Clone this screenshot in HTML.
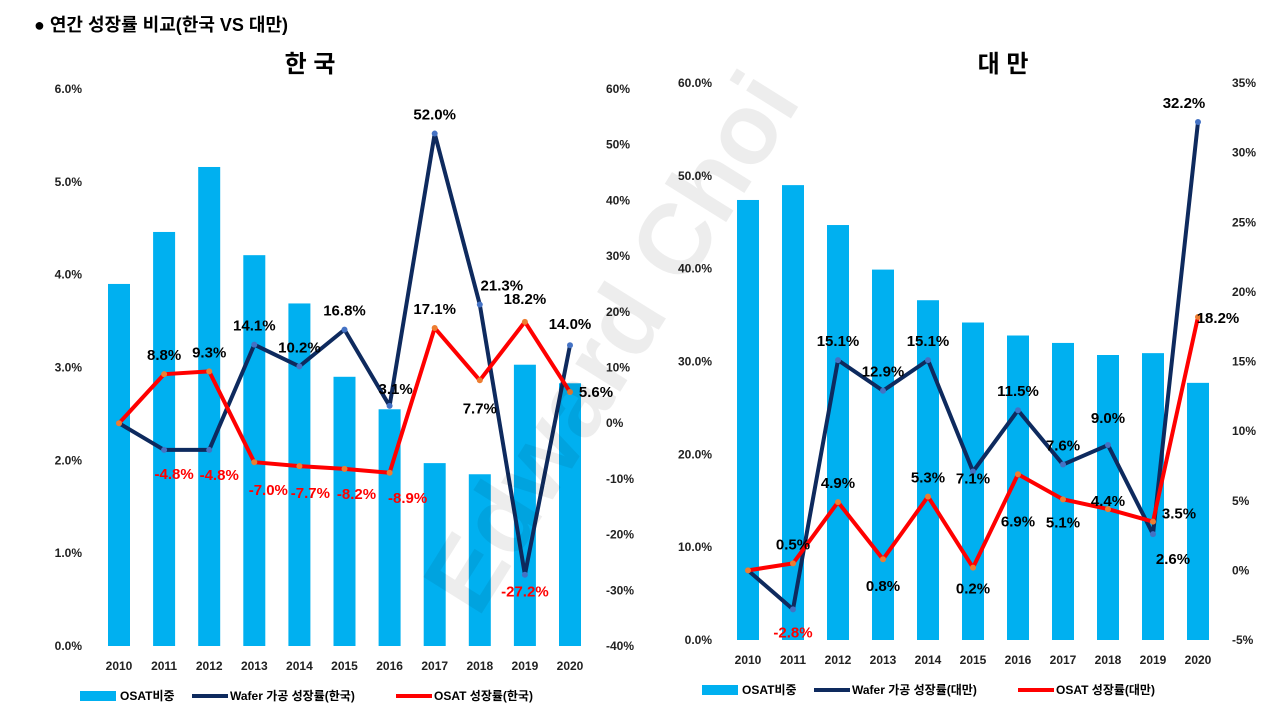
<!DOCTYPE html>
<html><head><meta charset="utf-8">
<style>
html,body{margin:0;padding:0;background:#fff;}
svg text{font-family:"Liberation Sans","Noto Sans CJK KR",sans-serif;}
</style></head>
<body>
<svg id="root" width="1280" height="720" viewBox="0 0 1280 720" xmlns="http://www.w3.org/2000/svg">
<text x="34" y="31" font-size="18" font-weight="bold" fill="#000">●  연간 성장률 비교(한국 VS 대만)</text>
<text x="310" y="72" font-size="24" font-weight="bold" text-anchor="middle">한 국</text>
<text x="1003" y="72" font-size="24" font-weight="bold" text-anchor="middle">대 만</text>
<g id="k"></g><g id="t"></g>
<text x="640" y="360" font-size="100" font-weight="bold" fill="#000" fill-opacity="0.07" text-anchor="middle" transform="rotate(-58 640 360)">Edward Choi</text>
</svg>
<script>
const years=["2010","2011","2012","2013","2014","2015","2016","2017","2018","2019","2020"];
const krShare=[3.90,4.46,5.16,4.21,3.69,2.90,2.55,1.97,1.85,3.03,2.83];
const krWafer=[0,-4.8,-4.8,14.1,10.2,16.8,3.1,52.0,21.3,-27.2,14.0];
const krOsat=[0,8.8,9.3,-7.0,-7.7,-8.2,-8.9,17.1,7.7,18.2,5.6];
const twShare=[47.4,49.0,44.7,39.9,36.6,34.2,32.8,32.0,30.7,30.9,27.7];
const twWafer=[0,-2.8,15.1,12.9,15.1,7.1,11.5,7.6,9.0,2.6,32.2];
const twOsat=[0,0.5,4.9,0.8,5.3,0.2,6.9,5.1,4.4,3.5,18.2];
const krLeftTicks=[0,1,2,3,4,5,6];
const krRightTicks=[-40,-30,-20,-10,0,10,20,30,40,50,60];
const twLeftTicks=[0,10,20,30,40,50,60];
const twRightTicks=[-5,0,5,10,15,20,25,30,35];
/* label placement styling (pixel offsets from point) */
const krWaferOff=[null,[10,29],[10,30],[0,-14],[0,-14],[0,-14],[6,-12],[0,-14],[22,-14],[0,22],[0,-16]];
const krOsatOff=[null,[0,-14],[0,-14],[14,33],[11,32],[12,30],[18,30],[0,-14],[0,33],[0,-18],[26,5]];
const twWaferOff=[null,[0,28],[0,-14],[0,-14],[0,-14],[0,12],[0,-14],[0,-14],[0,-22],[20,30],[-14,-14]];
const twOsatOff=[null,[0,-14],[0,-14],[0,32],[0,-14],[0,26],[0,52],[0,28],[0,-3],[26,-3],[20,6]];
const NS="http://www.w3.org/2000/svg";
function mk(parent,tag,attrs,txt){const e=document.createElementNS(NS,tag);for(const k in attrs)e.setAttribute(k,attrs[k]);if(txt!==undefined)e.textContent=txt;parent.appendChild(e);return e;}
function draw(gid,cfg){
  const g=document.getElementById(gid);
  const yL=v=>cfg.bot-(v-cfg.lMin)/(cfg.lMax-cfg.lMin)*(cfg.bot-cfg.top);
  const yR=v=>cfg.bot-(v-cfg.rMin)/(cfg.rMax-cfg.rMin)*(cfg.bot-cfg.top);
  const x=i=>cfg.x0+i*cfg.dx;
  cfg.lTicks.forEach(t=>{const e=mk(g,'text',{x:cfg.lAxisX,y:yL(t)+4,'font-size':12,'font-weight':'bold','text-anchor':'end',fill:'#222'},t.toFixed(1)+'%');
    });
  cfg.rTicks.forEach(t=>{const e=mk(g,'text',{x:cfg.rAxisX,y:yR(t)+4,'font-size':12,'font-weight':'bold','text-anchor':'start',fill:'#222'},t+'%');
    });
  years.forEach((yv,i)=>{const e=mk(g,'text',{x:x(i),y:cfg.bot+24,'font-size':12,'font-weight':'bold','text-anchor':'middle',fill:'#222'},yv);
    });
  cfg.share.forEach((v,i)=>{const e=mk(g,'rect',{x:x(i)-11,y:yL(v),width:22,height:cfg.bot-yL(v),fill:'#00b0f0'});
    });
  [[cfg.wafer,'#0e2a5e','#4472c4','wafer-growth'],[cfg.osat,'#ff0000','#ed7d31','osat-growth']].forEach(([arr,lc,mc,nm])=>{
    const l=mk(g,'polyline',{points:arr.map((v,i)=>x(i)+','+yR(v)).join(' '),fill:'none',stroke:lc,'stroke-width':4,'stroke-linejoin':'round'});
    
    arr.forEach((v,i)=>{const c=mk(g,'circle',{cx:x(i),cy:yR(v),r:3,fill:mc});
      });
  });
  const lbl=(arr,off)=>arr.forEach((v,i)=>{if(i===0)return;const neg=v<0;const o=off[i];
    const e=mk(g,'text',{x:x(i)+o[0],y:yR(v)+o[1],'font-size':15,'font-weight':'bold','text-anchor':'middle',fill:neg?'#ff0000':'#000'},v.toFixed(1)+'%');
    });
  lbl(cfg.wafer,cfg.wOff);lbl(cfg.osat,cfg.oOff);
  const ly=cfg.bot+50;
  const r=mk(g,'rect',{x:cfg.legX,y:ly-5,width:36,height:10,fill:'#00b0f0'});
  const t1=mk(g,'text',{x:cfg.legX+40,y:ly+4,'font-size':12,'font-weight':'bold'},'OSAT비중');
  const l2=mk(g,'line',{x1:cfg.legX+112,y1:ly,x2:cfg.legX+148,y2:ly,stroke:'#0e2a5e','stroke-width':4});
  const t2=mk(g,'text',{x:cfg.legX+150,y:ly+4,'font-size':12,'font-weight':'bold'},'Wafer 가공 성장률('+cfg.name+')');
  const l3=mk(g,'line',{x1:cfg.legX+316,y1:ly,x2:cfg.legX+352,y2:ly,stroke:'#ff0000','stroke-width':4});
  const t3=mk(g,'text',{x:cfg.legX+354,y:ly+4,'font-size':12,'font-weight':'bold'},'OSAT 성장률('+cfg.name+')');
}
draw('k',{share:krShare,wafer:krWafer,osat:krOsat,wOff:krWaferOff,oOff:krOsatOff,lTicks:krLeftTicks,rTicks:krRightTicks,lMin:0,lMax:6,rMin:-40,rMax:60,top:89,bot:646,x0:119,dx:45.1,lAxisX:82,rAxisX:606,legX:80,name:'한국'});
draw('t',{share:twShare,wafer:twWafer,osat:twOsat,wOff:twWaferOff,oOff:twOsatOff,lTicks:twLeftTicks,rTicks:twRightTicks,lMin:0,lMax:60,rMin:-5,rMax:35,top:83,bot:640,x0:748,dx:45,lAxisX:712,rAxisX:1232,legX:702,name:'대만'});
</script>
</body></html>
